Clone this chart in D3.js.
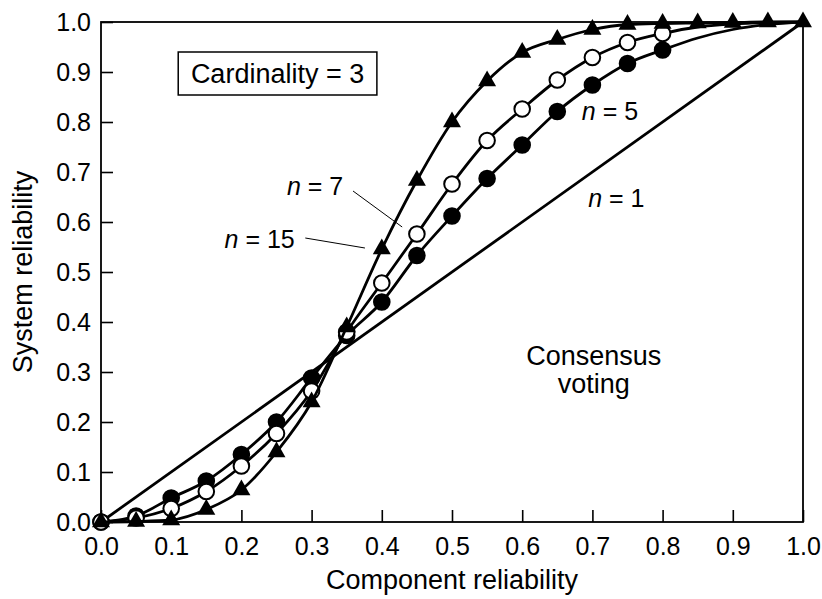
<!DOCTYPE html>
<html>
<head>
<meta charset="utf-8">
<script src="https://cdn.jsdelivr.net/npm/d3@7/dist/d3.min.js"></script>
<style>
  html, body { margin: 0; padding: 0; background: #fff; }
  svg { display: block; font-family: "Liberation Sans", Arial, Helvetica, sans-serif; }
</style>
</head>
<body>
<svg id="chart" width="822" height="599"></svg>
<script>
// ---- data ----
const xTicks = [0, 0.1, 0.2, 0.3, 0.4, 0.5, 0.6, 0.7, 0.8, 0.9, 1.0];
const yTicks = [0, 0.1, 0.2, 0.3, 0.4, 0.5, 0.6, 0.7, 0.8, 0.9, 1.0];

const n1X = [0, 1];
const n1Y = [0, 1];

const compX = [0, 0.05, 0.1, 0.15, 0.2, 0.25, 0.3, 0.35, 0.4, 0.45, 0.5, 0.55, 0.6, 0.65, 0.7, 0.75, 0.8, 0.85, 0.9, 0.95, 1.0];
const n5Y  = [0, 0.012, 0.048, 0.082, 0.135, 0.200, 0.288, 0.373, 0.440, 0.533, 0.612, 0.687, 0.754, 0.821, 0.874, 0.917, 0.944, 0.968, 0.985, 0.995, 1.0];
const n7Y  = [0, 0.008, 0.027, 0.061, 0.112, 0.177, 0.262, 0.380, 0.478, 0.576, 0.676, 0.763, 0.826, 0.884, 0.929, 0.959, 0.977, 0.990, 0.996, 0.999, 1.0];
const n15Y = [0, 0.001, 0.004, 0.025, 0.064, 0.140, 0.240, 0.390, 0.546, 0.683, 0.800, 0.882, 0.939, 0.965, 0.985, 0.995, 0.997, 0.998, 0.999, 1.0, 1.0];
// number of leading points that carry a marker
const n5Markers = 17;
const n7Markers = 17;
const n15Markers = 21;

// ---- layout ----
const svg = d3.select("#chart");
const L = 101, R = 803, T = 22, B = 522;
const x = d3.scaleLinear().domain([0, 1]).range([L, R]);
const y = d3.scaleLinear().domain([0, 1]).range([B, T]);

// frame
svg.append("rect").attr("x", L).attr("y", T).attr("width", R - L).attr("height", B - T)
  .attr("fill", "none").attr("stroke", "#000").attr("stroke-width", 1.8);

// axes
const fmt = d3.format(".1f");
const xAxis = svg.append("g").attr("transform", `translate(0,${B})`)
  .call(d3.axisBottom(x).tickValues(xTicks).tickFormat(fmt).tickSize(-12).tickSizeOuter(0).tickPadding(15));
const yAxis = svg.append("g").attr("transform", `translate(${L},0)`)
  .call(d3.axisLeft(y).tickValues(yTicks).tickFormat(fmt).tickSize(-12).tickSizeOuter(0).tickPadding(10));
[xAxis, yAxis].forEach(g => {
  g.select(".domain").remove();
  g.selectAll(".tick line").attr("stroke", "#000").attr("stroke-width", 1.6);
  g.selectAll(".tick text").attr("fill", "#000").style("font-size", "25px")
    .style("font-family", "'Liberation Sans', Arial, Helvetica, sans-serif");
});
yAxis.selectAll(".tick text").attr("dy", "0.35em");

// axis titles
svg.append("text").attr("x", (L + R) / 2).attr("y", 589).attr("text-anchor", "middle")
  .style("font-size", "27px").text("Component reliability");
svg.append("text").attr("transform", `translate(32,${(T + B) / 2}) rotate(-90)`)
  .attr("text-anchor", "middle").style("font-size", "27px").text("System reliability");

// lines
const line = d3.line().x(d => x(d[0])).y(d => y(d[1])).curve(d3.curveMonotoneX);
const zip = (xs, ys) => xs.map((v, i) => [v, ys[i]]);

svg.append("path").datum(zip(n1X, n1Y)).attr("d", d3.line().x(d => x(d[0])).y(d => y(d[1])))
  .attr("fill", "none").attr("stroke", "#000").attr("stroke-width", 2.8);

function series(ys, nMarkers, kind) {
  const pts = zip(compX, ys);
  svg.append("path").datum(pts).attr("d", line)
    .attr("fill", "none").attr("stroke", "#000").attr("stroke-width", 2.8);
  const mk = pts.slice(0, nMarkers);
  if (kind === "tri") {
    svg.append("g").selectAll("path").data(mk).join("path")
      .attr("transform", d => `translate(${x(d[0])},${y(d[1])})`)
      .attr("d", d3.symbol().type(d3.symbolTriangle).size(140)())
      .attr("fill", "#000");
  } else {
    svg.append("g").selectAll("circle").data(mk).join("circle")
      .attr("cx", d => x(d[0])).attr("cy", d => y(d[1])).attr("r", 7.8)
      .attr("fill", kind === "filled" ? "#000" : "#fff")
      .attr("stroke", "#000").attr("stroke-width", 2);
  }
}
series(n5Y, n5Markers, "filled");
series(n7Y, n7Markers, "open");
series(n15Y, n15Markers, "tri");

// annotations (data coordinates)
const leaders = [
  [[0.359, 0.662], [0.429, 0.590]],
  [[0.291, 0.568], [0.376, 0.548]]
];
leaders.forEach(seg => {
  svg.append("line").attr("x1", x(seg[0][0])).attr("y1", y(seg[0][1]))
    .attr("x2", x(seg[1][0])).attr("y2", y(seg[1][1]))
    .attr("stroke", "#000").attr("stroke-width", 1);
});

function nLabel(px, py, num, anchor) {
  const t = svg.append("text").attr("x", x(px)).attr("y", y(py)).attr("text-anchor", anchor)
    .style("font-size", "25px");
  t.append("tspan").style("font-style", "italic").text("n");
  t.append("tspan").text(" = " + num);
}
nLabel(0.345, 0.654, "7", "end");
nLabel(0.276, 0.548, "15", "end");
nLabel(0.685, 0.804, "5", "start");
nLabel(0.694, 0.630, "1", "start");

svg.append("text").attr("x", x(0.702)).attr("y", y(0.314)).attr("text-anchor", "middle")
  .style("font-size", "27px").text("Consensus");
svg.append("text").attr("x", x(0.702)).attr("y", y(0.258)).attr("text-anchor", "middle")
  .style("font-size", "27px").text("voting");

// Cardinality box
svg.append("rect").attr("x", x(0.11)).attr("y", y(0.94)).attr("width", x(0.393) - x(0.11))
  .attr("height", y(0.854) - y(0.94)).attr("fill", "#fff").attr("stroke", "#000").attr("stroke-width", 1.5);
svg.append("text").attr("x", (x(0.11) + x(0.393)) / 2).attr("y", y(0.878)).attr("text-anchor", "middle")
  .style("font-size", "27px").text("Cardinality = 3");
</script>
</body>
</html>
